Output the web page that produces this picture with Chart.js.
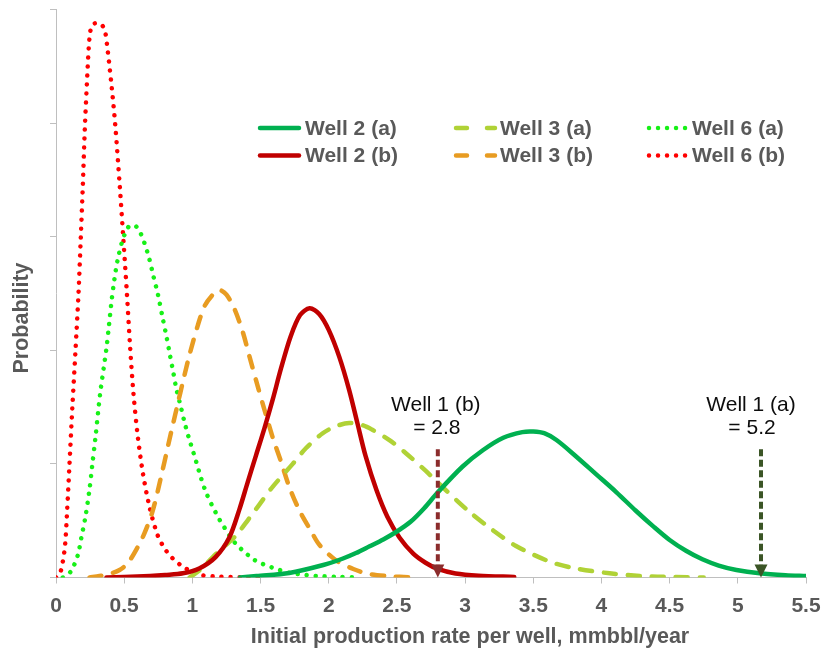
<!DOCTYPE html>
<html><head><meta charset="utf-8">
<script src="https://cdn.jsdelivr.net/npm/chart.js@4.4.1/dist/chart.umd.min.js"></script>
<style>html,body{margin:0;padding:0;background:#fff;}#wrap{width:824px;height:659px;position:relative;}</style>
</head><body><div id="wrap"><canvas id="c" width="824" height="659"></canvas></div>
<script>
// ---- data ----
const xTickValues = [0, 0.5, 1, 1.5, 2, 2.5, 3, 3.5, 4, 4.5, 5, 5.5];
const xTickLabels = ['0', '0.5', '1', '1.5', '2', '2.5', '3', '3.5', '4', '4.5', '5', '5.5'];
const seriesLabels = ['Well 2 (a)', 'Well 2 (b)', 'Well 3 (a)', 'Well 3 (b)', 'Well 6 (a)', 'Well 6 (b)'];

const well2a_x = [1.35, 1.47, 1.71, 1.96, 2.1, 2.2, 2.3, 2.4, 2.5, 2.6, 2.7, 2.8, 2.98, 3.13, 3.28, 3.42, 3.5, 3.58, 3.67, 3.81, 3.96, 4.11, 4.25, 4.38, 4.5, 4.62, 4.74, 4.86, 4.99, 5.16, 5.35, 5.5];
const well2a_y = [0.0, 0.013, 0.04, 0.11, 0.165, 0.215, 0.275, 0.335, 0.405, 0.49, 0.61, 0.75, 0.975, 1.12, 1.23, 1.28, 1.285, 1.27, 1.21, 1.07, 0.91, 0.75, 0.59, 0.45, 0.33, 0.235, 0.16, 0.105, 0.066, 0.037, 0.02, 0.013];

const well2b_x = [0.37, 0.5, 0.69, 0.8, 0.93, 1.05, 1.17, 1.27, 1.345, 1.406, 1.468, 1.53, 1.59, 1.65, 1.72, 1.79, 1.86, 1.93, 2.0, 2.078, 2.15, 2.21, 2.27, 2.35, 2.43, 2.52, 2.62, 2.71, 2.8, 2.93, 3.10, 3.36];
const well2b_y = [0.0, 0.004, 0.013, 0.022, 0.037, 0.08, 0.18, 0.35, 0.6, 0.84, 1.08, 1.32, 1.57, 1.84, 2.12, 2.31, 2.37, 2.32, 2.18, 1.94, 1.65, 1.36, 1.07, 0.77, 0.535, 0.35, 0.21, 0.13, 0.075, 0.035, 0.016, 0.005];

const well3a_x = [0.98, 1.05, 1.15, 1.23, 1.32, 1.41, 1.49, 1.59, 1.736, 1.834, 1.956, 2.05, 2.15, 2.25, 2.32, 2.445, 2.57, 2.71, 2.84, 3.03, 3.2, 3.37, 3.62, 3.81, 4.06, 4.3, 4.52, 4.75];
const well3a_y = [0.0, 0.06, 0.18, 0.27, 0.37, 0.51, 0.64, 0.80, 1.0, 1.14, 1.27, 1.33, 1.36, 1.34, 1.30, 1.21, 1.09, 0.94, 0.79, 0.58, 0.42, 0.28, 0.14, 0.08, 0.037, 0.012, 0.004, 0.0];

const well3b_x = [0.246, 0.319, 0.40, 0.466, 0.526, 0.60, 0.649, 0.71, 0.771, 0.82, 0.856, 0.893, 0.93, 0.979, 1.04, 1.09, 1.15, 1.2, 1.25, 1.31, 1.37, 1.42, 1.48, 1.54, 1.59, 1.65, 1.71, 1.785, 1.87, 1.93, 2.05, 2.18, 2.30, 2.44, 2.6];
const well3b_y = [0.0, 0.013, 0.035, 0.066, 0.125, 0.27, 0.39, 0.59, 0.89, 1.15, 1.34, 1.53, 1.72, 1.96, 2.22, 2.39, 2.49, 2.53, 2.49, 2.36, 2.16, 1.94, 1.68, 1.43, 1.23, 1.02, 0.80, 0.59, 0.41, 0.29, 0.154, 0.075, 0.03, 0.012, 0.0];

const well6a_x = [0.05, 0.062, 0.111, 0.16, 0.185, 0.216, 0.245, 0.265, 0.29, 0.324, 0.368, 0.385, 0.409, 0.429, 0.451, 0.483, 0.507, 0.534, 0.56, 0.588, 0.62, 0.647, 0.683, 0.715, 0.746, 0.783, 0.812, 0.837, 0.861, 0.881, 0.918, 0.942, 0.974, 1.008, 1.028, 1.065, 1.10, 1.142, 1.199, 1.235, 1.272, 1.316, 1.358, 1.406, 1.44, 1.504, 1.58, 1.64, 1.71, 1.834, 1.91, 2.05, 2.22];
const well6a_y = [0.0, 0.007, 0.057, 0.198, 0.345, 0.535, 0.77, 0.98, 1.24, 1.62, 2.0, 2.18, 2.45, 2.63, 2.79, 2.95, 3.03, 3.09, 3.10, 3.09, 3.03, 2.95, 2.81, 2.65, 2.5, 2.28, 2.11, 1.95, 1.8, 1.67, 1.49, 1.37, 1.23, 1.10, 1.02, 0.87, 0.75, 0.64, 0.51, 0.44, 0.37, 0.30, 0.25, 0.20, 0.165, 0.125, 0.09, 0.066, 0.042, 0.022, 0.013, 0.007, 0.0];

const well6b_x = [0.0, 0.03, 0.05, 0.067, 0.08, 0.099, 0.12, 0.143, 0.165, 0.182, 0.197, 0.211, 0.229, 0.241, 0.252, 0.27, 0.3, 0.33, 0.35, 0.363, 0.38, 0.395, 0.409, 0.434, 0.468, 0.495, 0.52, 0.544, 0.568, 0.6, 0.637, 0.686, 0.746, 0.8, 0.854, 0.93, 1.0, 1.07, 1.2, 1.35, 1.54];
const well6b_y = [0.0, 0.04, 0.14, 0.29, 0.55, 1.0, 1.5, 2.0, 2.5, 3.0, 3.46, 3.94, 4.41, 4.68, 4.81, 4.87, 4.88, 4.87, 4.84, 4.79, 4.63, 4.47, 4.31, 3.99, 3.44, 2.96, 2.5, 2.02, 1.62, 1.24, 0.92, 0.62, 0.37, 0.25, 0.17, 0.095, 0.05, 0.02, 0.008, 0.003, 0.0];

const markerLabels = ['Well 1 (b)', 'Well 1 (a)'];
const markerValueTexts = ['= 2.8', '= 5.2'];
const markerX = [2.8, 5.17];
const markerTopY = [1.13, 1.13];

// ---- styles ----
const FONT = '"Liberation Sans", Arial, sans-serif';
const GREY = '#595959';
const styles = [
  {color: '#00b050', dash: [], width: 4.5},
  {color: '#c00000', dash: [], width: 4.5},
  {color: '#b0d236', dash: [12, 12], width: 4.5},
  {color: '#e89c22', dash: [12, 12], width: 4.5},
  {color: '#17f017', dash: [0.01, 9], width: 4.5},
  {color: '#ff0000', dash: [0.01, 9], width: 4.5}
];
const xs = [well2a_x, well2b_x, well3a_x, well3b_x, well6a_x, well6b_x];
const ys = [well2a_y, well2b_y, well3a_y, well3b_y, well6a_y, well6b_y];
const markerColors = ['#8b2c2c', '#3b5526'];

const datasets = seriesLabels.map((lab, i) => ({
  label: lab,
  data: xs[i].map((x, j) => ({x: x, y: ys[i][j]})),
  borderColor: styles[i].color,
  backgroundColor: styles[i].color,
  borderWidth: styles[i].width,
  borderDash: styles[i].dash,
  borderCapStyle: 'round',
  borderJoinStyle: 'round',
  pointRadius: 0,
  fill: false,
  tension: 0.3,
  showLine: true
}));

const extras = {
  id: 'extras',
  afterDatasetsDraw(chart) {
    const ctx = chart.ctx;
    const sx = chart.scales.x, sy = chart.scales.y;
    ctx.save();
    // markers
    const offs = [-2, -10];
    for (let i = 0; i < markerX.length; i++) {
      const px = sx.getPixelForValue(markerX[i]);
      const top = sy.getPixelForValue(markerTopY[i]);
      const bot = sy.getPixelForValue(0);
      ctx.strokeStyle = markerColors[i];
      ctx.fillStyle = markerColors[i];
      ctx.lineWidth = 4;
      ctx.lineCap = 'butt';
      ctx.setLineDash([7, 3.5]);
      ctx.beginPath(); ctx.moveTo(px, top); ctx.lineTo(px, bot - 11); ctx.stroke();
      ctx.setLineDash([]);
      ctx.beginPath(); ctx.moveTo(px - 6.5, bot - 13); ctx.lineTo(px + 6.5, bot - 13); ctx.lineTo(px, bot); ctx.closePath(); ctx.fill();
      ctx.fillStyle = '#0d0d0d';
      ctx.font = '21px ' + FONT;
      ctx.textAlign = 'center'; ctx.textBaseline = 'middle';
      ctx.fillText(markerLabels[i], px + offs[i], top - 44);
      ctx.fillText(markerValueTexts[i], px + offs[i] + 1, top - 21);
    }
    // legend
    const colStart = [258, 454, 647], colEnd = [301, 497, 688], colText = [305, 500, 692];
    const rowY = [128, 155.5];
    ctx.font = 'bold 21px ' + FONT;
    ctx.textAlign = 'left'; ctx.textBaseline = 'middle';
    for (let i = 0; i < seriesLabels.length; i++) {
      const c = Math.floor(i / 2), r = i % 2;
      const st = styles[i];
      ctx.strokeStyle = st.color; ctx.lineWidth = st.width; ctx.lineCap = 'round';
      ctx.setLineDash(st.dash.length && st.dash[0] > 1 ? [11, 20] : st.dash);
      ctx.beginPath(); ctx.moveTo(colStart[c] + 2, rowY[r]); ctx.lineTo(colEnd[c] - 2, rowY[r]); ctx.stroke();
      ctx.setLineDash([]);
      ctx.fillStyle = GREY;
      ctx.fillText(seriesLabels[i], colText[c], rowY[r] + 1);
    }
    // axis titles
    ctx.fillStyle = GREY;
    ctx.font = 'bold 21.5px ' + FONT;
    ctx.textAlign = 'center'; ctx.textBaseline = 'middle';
    ctx.fillText('Initial production rate per well, mmbbl/year', 470, 637);
    ctx.translate(22, 318); ctx.rotate(-Math.PI / 2);
    ctx.fillText('Probability', 0, 0);
    ctx.restore();
  }
};

new Chart(document.getElementById('c'), {
  type: 'line',
  data: {datasets: datasets},
  plugins: [extras],
  options: {
    responsive: false, animation: false, devicePixelRatio: 1,
    layout: {padding: {left: 0, right: 18, top: 9.5, bottom: 0}},
    plugins: {legend: {display: false}, tooltip: {enabled: false}},
    scales: {
      x: {
        type: 'linear', min: 0, max: 5.5,
        afterFit: s => { s.height = 81.5; s.paddingRight = 0; s.paddingLeft = 0; },
        afterBuildTicks: s => { s.ticks = xTickValues.map(v => ({value: v})); },
        ticks: {
          autoSkip: false, maxRotation: 0, padding: 10, color: GREY,
          font: {family: FONT, size: 21, weight: 'bold'},
          callback: (v) => { const k = xTickValues.indexOf(v); return k >= 0 ? xTickLabels[k] : ''; }
        },
        grid: {display: true, drawOnChartArea: false, drawTicks: true, tickLength: 6, color: '#bfbfbf'},
        border: {display: true, color: '#bfbfbf', width: 1}
      },
      y: {
        type: 'linear', min: 0, max: 5,
        afterFit: s => { s.width = 56; },
        ticks: {display: false, stepSize: 1},
        grid: {display: true, drawOnChartArea: false, drawTicks: true, tickLength: 6, color: '#bfbfbf'},
        border: {display: true, color: '#bfbfbf', width: 1}
      }
    }
  }
});
</script></body></html>
